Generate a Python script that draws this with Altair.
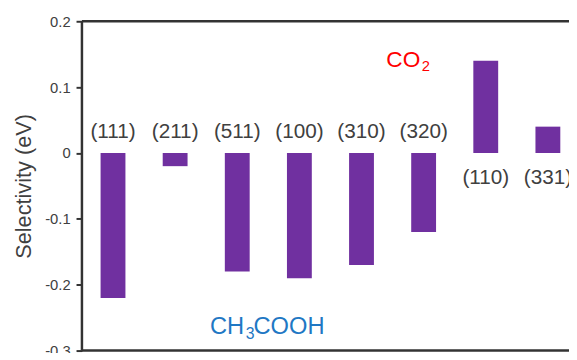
import altair as alt
import pandas as pd

facets = ["(111)", "(211)", "(511)", "(100)", "(310)", "(320)", "(110)", "(331)"]
selectivity = [-0.22, -0.02, -0.18, -0.19, -0.17, -0.12, 0.14, 0.04]

# annotation pieces (text, x in bar-index units, y in eV, size, colour)
ann_text = ["CO", "2", "CH", "3", "COOH"]
ann_x = [4.40, 4.97, 1.56, 2.135, 2.262]
ann_y = [0.131, 0.125, -0.2754, -0.283, -0.2754]
ann_size = [23, 15, 24, 16, 24]
ann_color = ["#FF0000", "#FF0000", "#1F78C4", "#1F78C4", "#1F78C4"]

# frame edges (y limits of the plot)
frame_y = [0.2, -0.3]
frame_x = [-0.5]

df = pd.DataFrame({"facet": facets, "sel": selectivity, "idx": list(range(len(facets)))})
ann = pd.DataFrame({"t": ann_text, "x": ann_x, "y": ann_y, "s": ann_size, "c": ann_color})
frame = pd.DataFrame({"fy": frame_y})
framex = pd.DataFrame({"fx": frame_x})

FONT = "Liberation Sans"
INK = "#404040"
LINE = "#333333"
xscale = alt.Scale(domain=[-0.5, 7.34], nice=False, zero=False)
yscale = alt.Scale(domain=[-0.3, 0.2], nice=False, zero=False)

base = alt.Chart(df)

bars = base.mark_bar(color="#7030A0").transform_calculate(
    x0="datum.idx - 0.2", x1="datum.idx + 0.2"
).encode(
    x=alt.X("x0:Q", scale=xscale, axis=None),
    x2="x1:Q",
    y=alt.Y(
        "sel:Q",
        scale=yscale,
        axis=alt.Axis(
            values=[-0.3, -0.2, -0.1, 0, 0.1, 0.2],
            labelExpr="datum.value == 0 ? '0' : toString(round(datum.value*10)/10)",
            title="Selectivity (eV)",
            titleFont=FONT,
            titleFontSize=22,
            titleFontWeight="normal",
            titleColor=INK,
            titlePadding=9,
            labelFont=FONT,
            labelFontSize=15,
            labelColor=INK,
            labelPadding=6,
            tickSize=6,
            tickColor=LINE,
            tickWidth=2,
            domain=False,
            grid=False,
        ),
    ),
    y2=alt.datum(0),
)

edges = alt.Chart(frame).mark_rule(color=LINE, strokeWidth=2.5).encode(
    y=alt.Y("fy:Q", scale=yscale)
)
left_edge = alt.Chart(framex).mark_rule(color=LINE, strokeWidth=2.5).encode(
    x=alt.X("fx:Q", scale=xscale)
)

lab_neg = base.transform_filter("datum.sel < 0").mark_text(
    font=FONT, fontSize=21, color=INK, baseline="alphabetic", dy=-15
).encode(x=alt.X("idx:Q", scale=xscale), y=alt.datum(0), text="facet:N")

lab_pos = base.transform_filter("datum.sel >= 0").mark_text(
    font=FONT, fontSize=21, color=INK, baseline="alphabetic", dy=31
).encode(x=alt.X("idx:Q", scale=xscale), y=alt.datum(0), text="facet:N")

notes = alt.Chart(ann).mark_text(font=FONT, align="left", baseline="alphabetic").encode(
    x=alt.X("x:Q", scale=xscale),
    y=alt.Y("y:Q", scale=yscale),
    text="t:N",
    size=alt.Size("s:Q", scale=None, legend=None),
    color=alt.Color("c:N", scale=None, legend=None),
)

chart = alt.layer(bars, edges, left_edge, lab_neg, lab_pos, notes).properties(
    width=494,
    height=334,
    autosize=alt.AutoSizeParams(type="none"),
    padding={"left": 75, "top": 11, "right": 0, "bottom": 0},
    background="white",
).configure_view(stroke=None)

chart.save("out.html", embed_options={"renderer": "svg", "actions": False})
